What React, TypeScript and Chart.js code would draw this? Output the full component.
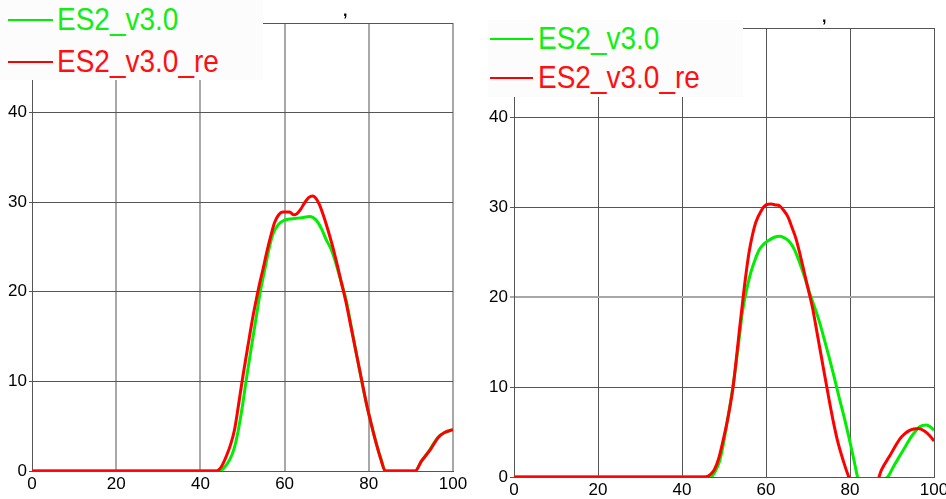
import React, { useEffect, useRef } from 'react';
import { Chart, registerables } from 'chart.js';

Chart.register(...registerables);

const seriesNames = ['ES2_v3.0', 'ES2_v3.0_re'];
const xTickValues = [0, 20, 40, 60, 80, 100];
const yTickValues = [0, 10, 20, 30, 40, 50];
const stray = ',';

// Left panel
const leftGreenX = [0, 44.6, 45.5, 47, 48, 48.9, 50, 50.9, 52, 53.3, 54.3, 55.3, 56.3, 57.2, 58.5, 60, 62.8, 64.5, 65.9, 67.5, 68.8, 69.9, 71, 71.9, 73.2, 74.6, 75.8, 77, 78.2, 79.4, 80.6, 81.7, 83, 84, 91, 92.5, 94.5, 96.5, 98, 100];
const leftGreenY = [0, 0, 0.3, 1.3, 2.5, 4.3, 7.3, 10.2, 13.5, 17.3, 20.2, 22.5, 24.8, 26.4, 27.5, 28, 28.2, 28.3, 28.4, 28, 27, 25.8, 24.8, 23.6, 21.5, 19.1, 16.2, 13.2, 10.3, 7.6, 5.2, 3.2, 1.2, 0, 0, 1.1, 2.4, 3.8, 4.3, 4.6];
const leftRedX = [0, 43.8, 45, 46.2, 47.2, 48.1, 49, 50.1, 51.3, 52.5, 53.3, 54.1, 55, 55.7, 56.7, 57.6, 58.6, 59.6, 61.2, 62.1, 62.9, 63.8, 64.7, 65.7, 66.7, 67.5, 68.3, 69.3, 70.3, 71.5, 72.6, 73.6, 74.6, 75.8, 77, 78.2, 79.4, 80.6, 81.7, 82.8, 83.9, 91, 92.5, 94.5, 96.5, 98, 100];
const leftRedY = [0, 0, 0.5, 1.7, 3, 4.6, 7.2, 10.6, 14, 17.3, 19.2, 21, 22.8, 24.3, 26.2, 27.7, 28.6, 28.9, 28.9, 28.6, 28.7, 29.2, 29.9, 30.5, 30.7, 30.4, 29.7, 28.4, 26.9, 24.9, 22.8, 20.8, 18.8, 16, 13.2, 10.4, 7.6, 5.2, 3.2, 1.4, 0, 0, 1.1, 2.3, 3.75, 4.3, 4.6];

// Right panel
const rightGreenX = [0, 46.9, 47.9, 48.9, 49.7, 50.5, 51.5, 52.5, 53.5, 54.4, 55.4, 56.4, 57.4, 58.4, 59.6, 60.8, 62, 63.3, 64.5, 65.6, 66.8, 67.9, 69.1, 70.3, 71.5, 72.7, 73.9, 75.1, 76.3, 77.5, 78.7, 79.8, 80.8, 81.8, 82.8, 87, 88.3, 89, 90.4, 91.8, 93.2, 94.6, 95.6, 96.6, 97.4, 98.2, 99.1, 100];
const rightGreenY = [0, 0, 0.6, 1.7, 3.3, 5.4, 8.2, 11.3, 15, 18.4, 20.9, 22.8, 24.2, 25.3, 26, 26.4, 26.7, 26.8, 26.6, 26.2, 25.3, 24, 22.4, 20.6, 19, 17.3, 15.3, 13.2, 11, 8.7, 6.5, 4.3, 2.2, 0, -1.5, -1.5, -0.2, 0, 1.2, 2.3, 3.4, 4.5, 5.1, 5.6, 5.75, 5.8, 5.6, 5.2];
const rightRedX = [0, 45.5, 46.8, 47.7, 48.7, 49.7, 50.9, 52.1, 52.9, 53.7, 54.8, 55.4, 56, 56.8, 57.6, 58.8, 60, 61.2, 62.2, 63.2, 64.2, 65.2, 66.1, 67.1, 68.1, 69.1, 70.1, 71.1, 72.1, 73.1, 74.1, 75.1, 76.1, 77.1, 78.4, 79.7, 81, 84, 85, 86.6, 87.5, 89.4, 91.8, 93, 94.2, 95.2, 96.2, 97.8, 99, 100];
const rightRedY = [0, 0, 0.3, 0.8, 2, 3.9, 6.5, 9.8, 13, 16.5, 21, 23.2, 25.1, 27, 28.4, 29.6, 30.3, 30.4, 30.3, 30.2, 29.7, 29, 27.9, 26.6, 24.8, 22.8, 20.8, 18.8, 16.2, 13.6, 11, 8.4, 6, 3.9, 1.8, 0, -1.5, -1.5, -0.2, -0.2, 0.8, 2.3, 4.2, 4.8, 5.2, 5.35, 5.4, 5.1, 4.6, 4.0];

const GREEN = '#00ee00';
const RED = '#ff0000';
const DARK = '#555555';
const LIGHT = '#a8a8a8';
const FONT = '"Liberation Sans", Arial, Helvetica, sans-serif';

function zip(xs: number[], ys: number[]) {
  return xs.map((x, i) => ({ x, y: ys[i] }));
}

type PanelCfg = {
  yAxisWidth: number;
  xAxisHeight: number;
  padTop: number;
  padRight: number;
  xLight: (v: number) => boolean;
  yLight: (v: number) => boolean;
  yTickLen: number;
  yTickPad: number;
};

function makeChart(canvas: HTMLCanvasElement, gx: number[], gy: number[], rx: number[], ry: number[], cfg: PanelCfg) {
  const gridStyle = (light: (v: number) => boolean) => ({
    color: (ctx: any) => (ctx.tick && light(ctx.tick.value) ? LIGHT : DARK),
    lineWidth: (ctx: any) => (ctx.tick && light(ctx.tick.value) ? 2 : 1),
  });
  return new Chart(canvas, {
    type: 'line',
    data: {
      datasets: [
        {
          label: seriesNames[1],
          data: zip(rx, ry),
          borderColor: RED,
          backgroundColor: RED,
          borderWidth: 3,
          pointRadius: 0,
          cubicInterpolationMode: 'monotone',
          order: 0,
        },
        {
          label: seriesNames[0],
          data: zip(gx, gy),
          borderColor: GREEN,
          backgroundColor: GREEN,
          borderWidth: 3,
          pointRadius: 0,
          cubicInterpolationMode: 'monotone',
          order: 1,
        },
      ],
    },
    options: {
      animation: false,
      responsive: false,
      maintainAspectRatio: false,
      layout: { padding: { top: cfg.padTop, right: cfg.padRight, left: 0, bottom: 0 } },
      plugins: { legend: { display: false }, tooltip: { enabled: false }, title: { display: false } },
      scales: {
        x: {
          type: 'linear',
          min: 0,
          max: 100,
          afterBuildTicks: (s: any) => {
            s.ticks = xTickValues.map((v) => ({ value: v }));
          },
          afterFit: (s: any) => {
            s.height = cfg.xAxisHeight;
            s.paddingLeft = 0;
            s.paddingRight = 0;
          },
          ticks: { color: '#000', font: { family: FONT, size: 17 }, padding: 3, maxRotation: 0, autoSkip: false },
          grid: { drawTicks: false, ...gridStyle(cfg.xLight) },
          border: { color: DARK, width: 1 },
        },
        y: {
          type: 'linear',
          min: 0,
          max: 50,
          afterBuildTicks: (s: any) => {
            s.ticks = yTickValues.map((v) => ({ value: v }));
          },
          afterFit: (s: any) => {
            s.width = cfg.yAxisWidth;
            s.paddingTop = 0;
            s.paddingBottom = 0;
          },
          ticks: { color: '#000', font: { family: FONT, size: 17 }, padding: cfg.yTickPad, autoSkip: false },
          grid: { tickLength: cfg.yTickLen, ...gridStyle(cfg.yLight) },
          border: { color: DARK, width: 1 },
        },
      },
    } as any,
  });
}

function LegendBox(props: { left: number; top: number; width: number; height: number; lineX1: number; lineX2: number; textX: number; y1: number; y2: number }) {
  const { left, top, width, height, lineX1, lineX2, textX, y1, y2 } = props;
  const items = [
    { name: seriesNames[0], color: GREEN, text: '#11ee11', y: y1 },
    { name: seriesNames[1], color: RED, text: '#ff1010', y: y2 },
  ];
  return (
    <div style={{ position: 'absolute', left, top, width, height, background: '#fcfcfc' }}>
      {items.map((it) => (
        <React.Fragment key={it.name}>
          <div style={{ position: 'absolute', left: lineX1, top: it.y - 1, width: lineX2 - lineX1, height: 2, background: it.color }} />
          <div
            style={{
              position: 'absolute',
              left: textX,
              top: it.y - 14,
              height: 28,
              lineHeight: '28px',
              fontSize: 28,
              fontFamily: FONT,
              color: it.text,
              whiteSpace: 'nowrap',
              transform: 'scaleY(1.1)',
              transformOrigin: 'left center',
            }}
          >
            {it.name}
          </div>
        </React.Fragment>
      ))}
    </div>
  );
}

export default function App() {
  const leftRef = useRef<HTMLCanvasElement>(null);
  const rightRef = useRef<HTMLCanvasElement>(null);

  useEffect(() => {
    const a = makeChart(leftRef.current!, leftGreenX, leftGreenY, leftRedX, leftRedY, {
      yAxisWidth: 32,
      xAxisHeight: 28,
      padTop: 23,
      padRight: 17,
      xLight: (v) => v !== 0,
      yLight: () => false,
      yTickLen: 3,
      yTickPad: 2,
    });
    const b = makeChart(rightRef.current!, rightGreenX, rightGreenY, rightRedX, rightRedY, {
      yAxisWidth: 44,
      xAxisHeight: 22,
      padTop: 28,
      padRight: 12,
      xLight: () => false,
      yLight: (v) => v === 20,
      yTickLen: 4,
      yTickPad: 2,
    });
    return () => {
      a.destroy();
      b.destroy();
    };
  }, []);

  return (
    <div style={{ position: 'fixed', left: 0, top: 0, width: 946, height: 499, background: '#fff', overflow: 'hidden' }}>
      <div style={{ position: 'absolute', left: 0, top: 0, width: 470, height: 499 }}>
        <canvas ref={leftRef} width={470} height={499} style={{ display: 'block', width: 470, height: 499 }} />
      </div>
      <div style={{ position: 'absolute', left: 470, top: 0, width: 476, height: 499 }}>
        <canvas ref={rightRef} width={476} height={499} style={{ display: 'block', width: 476, height: 499 }} />
      </div>
      <LegendBox left={0} top={0} width={263} height={80} lineX1={8} lineX2={53} textX={57} y1={20} y2={62} />
      <LegendBox left={488} top={20} width={255} height={77} lineX1={2} lineX2={45} textX={50} y1={19} y2={58} />
      <div style={{ position: 'absolute', left: 343, top: 3, fontSize: 16, lineHeight: '16px', fontWeight: 'bold', fontFamily: FONT, color: '#000' }}>{stray}</div>
      <div style={{ position: 'absolute', left: 822, top: 9, fontSize: 16, lineHeight: '16px', fontWeight: 'bold', fontFamily: FONT, color: '#000' }}>{stray}</div>
    </div>
  );
}
